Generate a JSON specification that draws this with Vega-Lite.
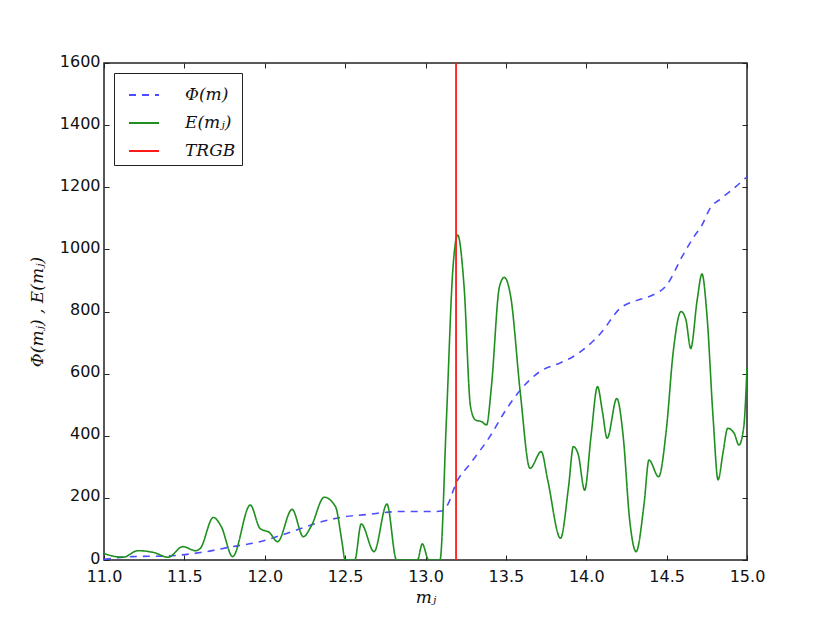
{
  "$schema": "https://vega.github.io/schema/vega-lite/v6.json",
  "width": 643,
  "height": 497,
  "autosize": {"type": "none"},
  "padding": {"left": 104, "top": 63, "right": 83, "bottom": 62},
  "background": "white",
  "config": {
    "view": {"stroke": "#222222", "strokeWidth": 1.5},
    "axis": {
      "domain": false,
      "grid": false,
      "labelFlush": false,
      "labelOverlap": false,
      "labelFont": "DejaVu Sans",
      "labelFontSize": 16,
      "labelColor": "#111111",
      "tickColor": "#222222",
      "tickSize": -5,
      "tickWidth": 1,
      "titleFont": "DejaVu Serif",
      "titleFontStyle": "italic",
      "titleFontWeight": "normal",
      "titleFontSize": 17,
      "titleColor": "#111111"
    }
  },
  "datasets": {
    "curves": [
      {"series": "Φ(m)", "m": 11.0, "value": 2},
      {"series": "Φ(m)", "m": 11.18, "value": 11},
      {"series": "Φ(m)", "m": 11.39, "value": 13},
      {"series": "Φ(m)", "m": 11.6, "value": 24},
      {"series": "Φ(m)", "m": 11.8, "value": 43},
      {"series": "Φ(m)", "m": 11.97, "value": 59},
      {"series": "Φ(m)", "m": 12.14, "value": 86},
      {"series": "Φ(m)", "m": 12.32, "value": 118},
      {"series": "Φ(m)", "m": 12.47, "value": 137},
      {"series": "Φ(m)", "m": 12.63, "value": 146},
      {"series": "Φ(m)", "m": 12.84, "value": 156},
      {"series": "Φ(m)", "m": 13.05, "value": 156},
      {"series": "Φ(m)", "m": 13.1, "value": 158},
      {"series": "Φ(m)", "m": 13.14, "value": 180},
      {"series": "Φ(m)", "m": 13.19, "value": 247},
      {"series": "Φ(m)", "m": 13.28, "value": 311},
      {"series": "Φ(m)", "m": 13.4, "value": 397},
      {"series": "Φ(m)", "m": 13.5, "value": 483},
      {"series": "Φ(m)", "m": 13.59, "value": 547},
      {"series": "Φ(m)", "m": 13.71, "value": 606},
      {"series": "Φ(m)", "m": 13.84, "value": 635},
      {"series": "Φ(m)", "m": 13.92, "value": 655},
      {"series": "Φ(m)", "m": 14.0, "value": 685},
      {"series": "Φ(m)", "m": 14.09, "value": 730},
      {"series": "Φ(m)", "m": 14.21, "value": 810},
      {"series": "Φ(m)", "m": 14.31, "value": 835},
      {"series": "Φ(m)", "m": 14.4, "value": 850},
      {"series": "Φ(m)", "m": 14.5, "value": 885},
      {"series": "Φ(m)", "m": 14.6, "value": 980},
      {"series": "Φ(m)", "m": 14.67, "value": 1041},
      {"series": "Φ(m)", "m": 14.72, "value": 1078},
      {"series": "Φ(m)", "m": 14.77, "value": 1132},
      {"series": "Φ(m)", "m": 14.84, "value": 1164},
      {"series": "Φ(m)", "m": 14.93, "value": 1202},
      {"series": "Φ(m)", "m": 15.0, "value": 1234},
      {"series": "E(mⱼ)", "m": 11.0, "value": 21},
      {"series": "E(mⱼ)", "m": 11.07, "value": 11},
      {"series": "E(mⱼ)", "m": 11.12, "value": 9},
      {"series": "E(mⱼ)", "m": 11.21, "value": 30},
      {"series": "E(mⱼ)", "m": 11.31, "value": 24},
      {"series": "E(mⱼ)", "m": 11.4, "value": 9},
      {"series": "E(mⱼ)", "m": 11.49, "value": 43},
      {"series": "E(mⱼ)", "m": 11.57, "value": 30},
      {"series": "E(mⱼ)", "m": 11.6, "value": 38},
      {"series": "E(mⱼ)", "m": 11.68, "value": 137},
      {"series": "E(mⱼ)", "m": 11.73, "value": 107},
      {"series": "E(mⱼ)", "m": 11.8, "value": 11},
      {"series": "E(mⱼ)", "m": 11.91, "value": 177},
      {"series": "E(mⱼ)", "m": 11.97, "value": 102},
      {"series": "E(mⱼ)", "m": 12.03, "value": 88},
      {"series": "E(mⱼ)", "m": 12.08, "value": 59},
      {"series": "E(mⱼ)", "m": 12.17, "value": 163},
      {"series": "E(mⱼ)", "m": 12.24, "value": 75},
      {"series": "E(mⱼ)", "m": 12.29, "value": 110},
      {"series": "E(mⱼ)", "m": 12.37, "value": 202},
      {"series": "E(mⱼ)", "m": 12.44, "value": 172},
      {"series": "E(mⱼ)", "m": 12.48, "value": 60},
      {"series": "E(mⱼ)", "m": 12.5, "value": 0},
      {"series": "E(mⱼ)", "m": 12.56, "value": 0},
      {"series": "E(mⱼ)", "m": 12.6, "value": 116},
      {"series": "E(mⱼ)", "m": 12.68, "value": 27},
      {"series": "E(mⱼ)", "m": 12.76, "value": 180},
      {"series": "E(mⱼ)", "m": 12.82, "value": 0},
      {"series": "E(mⱼ)", "m": 12.95, "value": 0},
      {"series": "E(mⱼ)", "m": 12.98, "value": 52},
      {"series": "E(mⱼ)", "m": 13.02, "value": 0},
      {"series": "E(mⱼ)", "m": 13.09, "value": 0},
      {"series": "E(mⱼ)", "m": 13.13, "value": 451},
      {"series": "E(mⱼ)", "m": 13.17, "value": 934},
      {"series": "E(mⱼ)", "m": 13.2, "value": 1046},
      {"series": "E(mⱼ)", "m": 13.24, "value": 880},
      {"series": "E(mⱼ)", "m": 13.28, "value": 494},
      {"series": "E(mⱼ)", "m": 13.31, "value": 451},
      {"series": "E(mⱼ)", "m": 13.35, "value": 445},
      {"series": "E(mⱼ)", "m": 13.38, "value": 435},
      {"series": "E(mⱼ)", "m": 13.41, "value": 558},
      {"series": "E(mⱼ)", "m": 13.46, "value": 880},
      {"series": "E(mⱼ)", "m": 13.49, "value": 910},
      {"series": "E(mⱼ)", "m": 13.53, "value": 848},
      {"series": "E(mⱼ)", "m": 13.59, "value": 537},
      {"series": "E(mⱼ)", "m": 13.65, "value": 295},
      {"series": "E(mⱼ)", "m": 13.72, "value": 349},
      {"series": "E(mⱼ)", "m": 13.76, "value": 258},
      {"series": "E(mⱼ)", "m": 13.84, "value": 70},
      {"series": "E(mⱼ)", "m": 13.89, "value": 236},
      {"series": "E(mⱼ)", "m": 13.92, "value": 365},
      {"series": "E(mⱼ)", "m": 13.95, "value": 340},
      {"series": "E(mⱼ)", "m": 13.99, "value": 225},
      {"series": "E(mⱼ)", "m": 14.03, "value": 400},
      {"series": "E(mⱼ)", "m": 14.07, "value": 558},
      {"series": "E(mⱼ)", "m": 14.1, "value": 480},
      {"series": "E(mⱼ)", "m": 14.13, "value": 392},
      {"series": "E(mⱼ)", "m": 14.19, "value": 520},
      {"series": "E(mⱼ)", "m": 14.23, "value": 397},
      {"series": "E(mⱼ)", "m": 14.27, "value": 129},
      {"series": "E(mⱼ)", "m": 14.31, "value": 27},
      {"series": "E(mⱼ)", "m": 14.36, "value": 182},
      {"series": "E(mⱼ)", "m": 14.39, "value": 322},
      {"series": "E(mⱼ)", "m": 14.45, "value": 268},
      {"series": "E(mⱼ)", "m": 14.5, "value": 429},
      {"series": "E(mⱼ)", "m": 14.54, "value": 665},
      {"series": "E(mⱼ)", "m": 14.59, "value": 800},
      {"series": "E(mⱼ)", "m": 14.62, "value": 773},
      {"series": "E(mⱼ)", "m": 14.65, "value": 681},
      {"series": "E(mⱼ)", "m": 14.69, "value": 837},
      {"series": "E(mⱼ)", "m": 14.72, "value": 921},
      {"series": "E(mⱼ)", "m": 14.75, "value": 794},
      {"series": "E(mⱼ)", "m": 14.79, "value": 451},
      {"series": "E(mⱼ)", "m": 14.82, "value": 258},
      {"series": "E(mⱼ)", "m": 14.85, "value": 343},
      {"series": "E(mⱼ)", "m": 14.88, "value": 424},
      {"series": "E(mⱼ)", "m": 14.92, "value": 408},
      {"series": "E(mⱼ)", "m": 14.95, "value": 370},
      {"series": "E(mⱼ)", "m": 14.98, "value": 429},
      {"series": "E(mⱼ)", "m": 15.0, "value": 620}
    ],
    "trgb": [
      {"series": "TRGB", "m": 13.19}
    ]
  },
  "layer": [
    {
      "data": {"name": "curves"},
      "mark": {"type": "line", "interpolate": "monotone", "strokeWidth": 1.6, "clip": true},
      "encoding": {
        "x": {
          "field": "m", "type": "quantitative",
          "scale": {"domain": [11, 15], "nice": false, "zero": false},
          "axis": {"orient": "bottom", "values": [11, 11.5, 12, 12.5, 13, 13.5, 14, 14.5, 15], "format": ".1f", "labelPadding": 13, "title": "mⱼ", "titlePadding": 5}
        },
        "y": {
          "field": "value", "type": "quantitative",
          "scale": {"domain": [0, 1600], "nice": false},
          "axis": {"orient": "left", "values": [0, 200, 400, 600, 800, 1000, 1200, 1400, 1600], "format": "d", "labelPadding": 9, "labelOffset": -2, "title": "Φ(mⱼ) , E(mⱼ)", "titlePadding": 13}
        },
        "color": {
          "field": "series", "type": "nominal",
          "scale": {"domain": ["Φ(m)", "E(mⱼ)", "TRGB"], "range": ["#4d4dff", "#1f8f1f", "#ff1a1a"]},
          "legend": {
            "orient": "top-left",
            "offset": 10,
            "title": null,
            "symbolType": "stroke",
            "symbolSize": 900,
            "symbolStrokeWidth": 1.8,
            "symbolOffset": 8,
            "labelOffset": 25,
            "labelFont": "DejaVu Serif",
            "labelFontStyle": "italic",
            "labelFontSize": 17,
            "labelColor": "#111111",
            "rowPadding": 4,
            "padding": 6,
            "strokeColor": "#222222",
            "fillColor": "white",
            "cornerRadius": 0
          }
        },
        "strokeDash": {
          "field": "series", "type": "nominal",
          "scale": {"domain": ["Φ(m)", "E(mⱼ)", "TRGB"], "range": [[7, 6], [1, 0], [1, 0]]},
          "legend": null
        }
      }
    },
    {
      "data": {"name": "trgb"},
      "mark": {"type": "rule", "strokeWidth": 1.8},
      "encoding": {
        "x": {
          "field": "m", "type": "quantitative",
          "axis": {"orient": "top", "values": [11, 11.5, 12, 12.5, 13, 13.5, 14, 14.5, 15], "labels": false, "title": null}
        },
        "color": {"field": "series", "type": "nominal"},
        "strokeDash": {"field": "series", "type": "nominal", "legend": null}
      }
    },
    {
      "data": {"name": "curves"},
      "mark": {"type": "point", "opacity": 0},
      "encoding": {
        "x": {"field": "m", "type": "quantitative", "axis": null},
        "y": {
          "field": "value", "type": "quantitative",
          "axis": {"orient": "right", "values": [0, 200, 400, 600, 800, 1000, 1200, 1400, 1600], "labels": false, "title": null}
        }
      }
    }
  ],
  "resolve": {"axis": {"x": "independent", "y": "independent"}}
}
